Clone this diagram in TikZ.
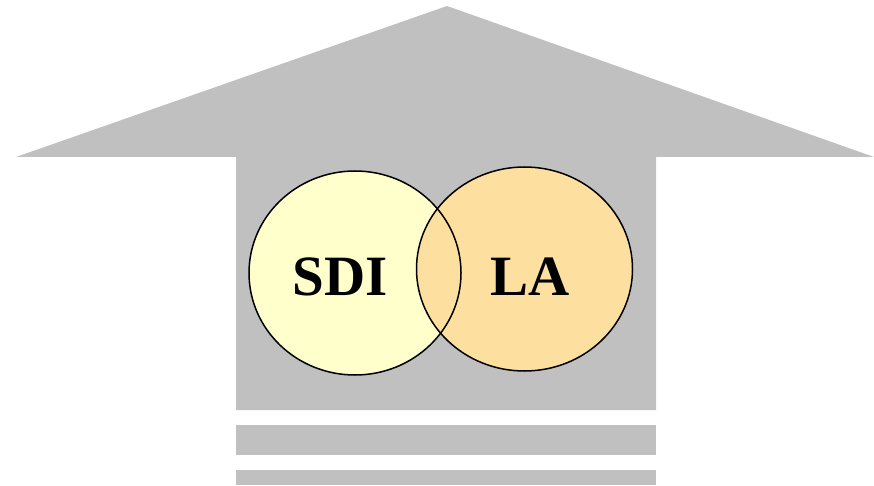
\documentclass[tikz,border=0pt]{standalone}
\usepackage{fontspec}
\setmainfont{Liberation Serif}
\usetikzlibrary{shapes.geometric}
\definecolor{housegray}{HTML}{C0C0C0}
\definecolor{sdiyellow}{HTML}{FFFFCC}
\definecolor{laorange}{HTML}{FDDFA0}
\tikzset{
  housepart/.style={fill=housegray, draw=none},
  ring/.style={ellipse, inner sep=0pt, line width=1.5pt},
  label/.style={font=\fontsize{57}{60}\selectfont\bfseries, inner sep=0pt, anchor=base}
}
\begin{document}
\begin{tikzpicture}[x=1pt, y=-1pt]
\useasboundingbox (0,0) rectangle (874,486);
% house
\fill[housepart] (447,6) -- (874,157) -- (656,157) -- (656,410) -- (236,410) -- (236,157) -- (16,157) -- cycle;
\fill[housepart] (236,425) rectangle (656,455);
\fill[housepart] (236,470) rectangle (656,485);
% circles fills
\node[ring, fill=sdiyellow, minimum width=212pt, minimum height=204pt] (sdifill) at (355,273) {};
\node[ring, fill=laorange, minimum width=216pt, minimum height=204pt] (lafill) at (524.5,269) {};
% outlines
\node[ring, draw=black, minimum width=212pt, minimum height=204pt] (sdi) at (355,273) {};
\node[ring, draw=black, minimum width=216pt, minimum height=204pt] (la) at (524.5,269) {};
% labels
\node[label] (sditext) at (340,295) {SDI};
\node[label] (latext) at (530,295) {LA};
\end{tikzpicture}
\end{document}
